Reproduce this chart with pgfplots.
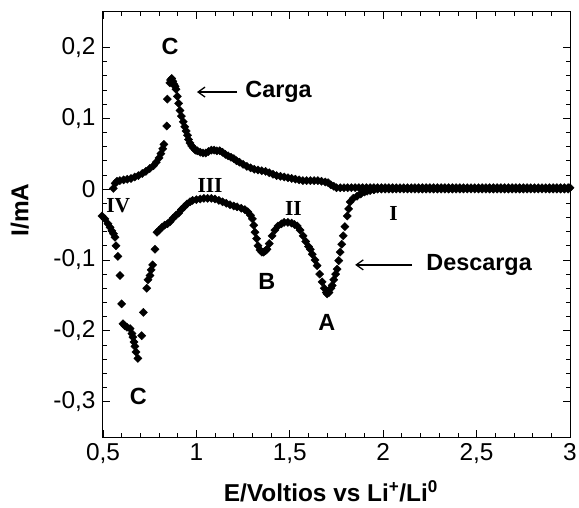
\documentclass[border=0pt]{standalone}
\usepackage{fontspec}
\setmainfont{Liberation Sans}
\newfontfamily\romanf{Liberation Serif}
\usepackage{pgfplots}
\pgfplotsset{compat=1.18}
\usetikzlibrary{arrows.meta}
\pgfplotstableread{
x y
0.555 0.001
0.565 0.008
0.575 0.011
0.590 0.012
0.610 0.013
0.630 0.014
0.650 0.015
0.670 0.017
0.690 0.019
0.710 0.022
0.730 0.025
0.750 0.029
0.770 0.033
0.785 0.038
0.800 0.044
0.810 0.050
0.820 0.057
0.826 0.063
0.841 0.089
0.844 0.127
0.858 0.150
0.862 0.154
0.868 0.156
0.874 0.152
0.880 0.148
0.886 0.145
0.891 0.141
0.898 0.131
0.905 0.121
0.912 0.111
0.920 0.103
0.930 0.095
0.938 0.088
0.945 0.082
0.952 0.076
0.958 0.070
0.966 0.065
0.975 0.061
0.985 0.058
0.995 0.055
1.005 0.054
1.020 0.052
1.035 0.051
1.050 0.051
1.065 0.053
1.080 0.055
1.095 0.055
1.110 0.054
1.125 0.054
1.140 0.052
1.155 0.049
1.170 0.047
1.185 0.045
1.200 0.043
1.215 0.040
1.230 0.038
1.250 0.035
1.270 0.032
1.290 0.030
1.310 0.028
1.330 0.027
1.350 0.026
1.370 0.025
1.390 0.023
1.410 0.021
1.430 0.019
1.450 0.018
1.470 0.017
1.490 0.016
1.510 0.015
1.530 0.014
1.550 0.013
1.570 0.012
1.590 0.012
1.610 0.012
1.630 0.012
1.650 0.012
1.670 0.011
1.690 0.010
1.705 0.009
1.720 0.006
1.735 0.004
1.750 0.002
1.77 0.002
1.79 0.002
1.81 0.002
1.83 0.002
1.85 0.002
1.87 0.002
1.89 0.002
1.91 0.002
1.93 0.002
1.95 0.002
1.97 0.002
1.99 0.002
2.01 0.002
2.03 0.002
2.05 0.002
2.07 0.002
2.09 0.002
2.11 0.002
2.13 0.002
2.15 0.002
2.17 0.002
2.19 0.002
2.21 0.002
2.23 0.002
2.25 0.002
2.27 0.002
2.29 0.002
2.31 0.002
2.33 0.002
2.35 0.002
2.37 0.002
2.39 0.002
2.41 0.002
2.43 0.002
2.45 0.002
2.47 0.002
2.49 0.002
2.51 0.002
2.53 0.002
2.55 0.002
2.57 0.002
2.59 0.002
2.61 0.002
2.63 0.002
2.65 0.002
2.67 0.002
2.69 0.002
2.71 0.002
2.73 0.002
2.75 0.002
2.77 0.002
2.79 0.002
2.81 0.002
2.83 0.002
2.85 0.002
2.87 0.002
2.89 0.002
2.91 0.002
2.93 0.002
2.95 0.002
2.97 0.002
2.99 0.002
3.00 0.002
}\carga
\pgfplotstableread{
x y
0.495 -0.038
0.510 -0.042
0.527 -0.049
0.538 -0.054
0.548 -0.059
0.556 -0.063
0.564 -0.068
0.570 -0.080
0.580 -0.095
0.591 -0.122
0.600 -0.162
0.607 -0.190
0.617 -0.193
0.628 -0.195
0.645 -0.197
0.655 -0.204
0.660 -0.209
0.666 -0.216
0.671 -0.222
0.677 -0.230
0.687 -0.239
0.707 -0.207
0.716 -0.174
0.734 -0.140
0.741 -0.128
0.752 -0.122
0.758 -0.114
0.766 -0.107
0.778 -0.085
0.789 -0.061
0.800 -0.058
0.816 -0.054
0.830 -0.051
0.845 -0.049
0.859 -0.046
0.875 -0.041
0.890 -0.037
0.905 -0.034
0.920 -0.029
0.935 -0.025
0.950 -0.021
0.966 -0.018
0.980 -0.016
1.000 -0.015
1.020 -0.014
1.040 -0.013
1.060 -0.013
1.080 -0.013
1.100 -0.014
1.120 -0.016
1.140 -0.018
1.160 -0.020
1.180 -0.022
1.200 -0.024
1.218 -0.025
1.240 -0.027
1.260 -0.029
1.275 -0.032
1.290 -0.037
1.300 -0.042
1.307 -0.051
1.314 -0.061
1.322 -0.070
1.330 -0.080
1.340 -0.086
1.350 -0.089
1.360 -0.089
1.370 -0.087
1.378 -0.085
1.390 -0.077
1.405 -0.066
1.420 -0.058
1.437 -0.052
1.455 -0.049
1.470 -0.047
1.490 -0.047
1.510 -0.048
1.525 -0.050
1.540 -0.052
1.555 -0.058
1.571 -0.066
1.585 -0.074
1.600 -0.081
1.610 -0.085
1.620 -0.092
1.635 -0.100
1.646 -0.108
1.660 -0.120
1.673 -0.131
1.685 -0.140
1.695 -0.146
1.700 -0.148
1.710 -0.146
1.720 -0.140
1.727 -0.136
1.735 -0.128
1.745 -0.120
1.753 -0.113
1.762 -0.101
1.770 -0.089
1.778 -0.078
1.786 -0.066
1.795 -0.053
1.807 -0.038
1.815 -0.028
1.823 -0.018
1.840 -0.013
1.860 -0.010
1.880 -0.007
1.900 -0.004
1.914 -0.003
1.930 -0.002
1.950 -0.001
1.97 0.000
1.99 0.000
2.01 0.000
2.03 0.000
2.05 0.000
2.07 0.000
2.09 0.000
2.11 0.000
2.13 0.000
2.15 0.000
2.17 0.000
2.19 0.000
2.21 0.000
2.23 0.000
2.25 0.000
2.27 0.000
2.29 0.000
2.31 0.000
2.33 0.000
2.35 0.000
2.37 0.000
2.39 0.000
2.41 0.000
2.43 0.000
2.45 0.000
2.47 0.000
2.49 0.000
2.51 0.000
2.53 0.000
2.55 0.000
2.57 0.000
2.59 0.000
2.61 0.000
2.63 0.000
2.65 0.000
2.67 0.000
2.69 0.000
2.71 0.000
2.73 0.000
2.75 0.000
2.77 0.000
2.79 0.000
2.81 0.000
2.83 0.000
2.85 0.000
2.87 0.000
2.89 0.000
2.91 0.000
2.93 0.000
2.95 0.000
2.97 0.000
2.99 0.000
}\descarga
\begin{document}
\begin{tikzpicture}
\begin{axis}[
  scale only axis, width=467bp, height=425bp,
  xmin=0.5, xmax=3, ymin=-0.35, ymax=0.25,
  xtick={0.5,1,1.5,2,2.5,3},
  ytick={-0.3,-0.2,-0.1,0,0.1,0.2},
  minor x tick num=4, minor y tick num=4,
  tick align=inside,
  major tick length=7bp, minor tick length=4bp,
  tick style={black, line width=0.8bp},
  axis line style={line width=1bp},
  scaled ticks=false,
  /pgf/number format/.cd, use comma, fixed, precision=1, assume math mode=true,
  /pgfplots/.cd,
  ticklabel style={font=\fontsize{24.5}{28}\selectfont},
  yticklabel style={xshift=-4bp},
  xticklabel style={yshift=-3bp},
  xlabel={E/Voltios vs Li\textsuperscript{+}/Li\textsuperscript{0}},
  ylabel={I/mA},
  label style={font=\fontsize{24.5}{28}\selectfont\bfseries},
  xlabel style={at={(axis description cs:0.488,-0.128)}, anchor=center},
  ylabel style={at={(axis description cs:-0.178,0.534)}, anchor=center},
  clip=false,
]
\addplot[only marks, mark=square*, mark size=2.9bp, mark options={rotate=45, black}] table {\carga};
\addplot[only marks, mark=square*, mark size=2.9bp, mark options={rotate=45, black}] table {\descarga};
\draw[line width=1.3bp, -{Straight Barb[length=7bp,width=10bp]}] (axis cs:1.218,0.137) -- (axis cs:1.003,0.137);
\draw[line width=1.3bp, -{Straight Barb[length=7bp,width=10bp]}] (axis cs:2.155,-0.107) -- (axis cs:1.85,-0.107);
\begin{scope}[every node/.style={font=\fontsize{23.5}{27}\selectfont\bfseries, inner sep=0pt}]
\node at (axis cs:0.859,0.202) {C};
\node[anchor=west] at (axis cs:1.261,0.137) {Carga};
\node[anchor=west] at (axis cs:2.23,-0.107) {Descarga};
\node at (axis cs:1.377,-0.131) {B};
\node at (axis cs:1.698,-0.188) {A};
\node at (axis cs:0.689,-0.293) {C};
\end{scope}
\begin{scope}[every node/.style={font=\fontsize{21.5}{25}\romanf\bfseries, inner sep=0pt}]
\node at (axis cs:1.073,0.005) {III};
\node at (axis cs:1.519,-0.028) {II};
\node at (axis cs:0.582,-0.023) {IV};
\node at (axis cs:2.055,-0.035) {I};
\end{scope}
\end{axis}
\pgfresetboundingbox
\path[use as bounding box] (current axis.south west) ++(-103bp,-71bp) rectangle ++(579bp,508bp);
\end{tikzpicture}
\end{document}
